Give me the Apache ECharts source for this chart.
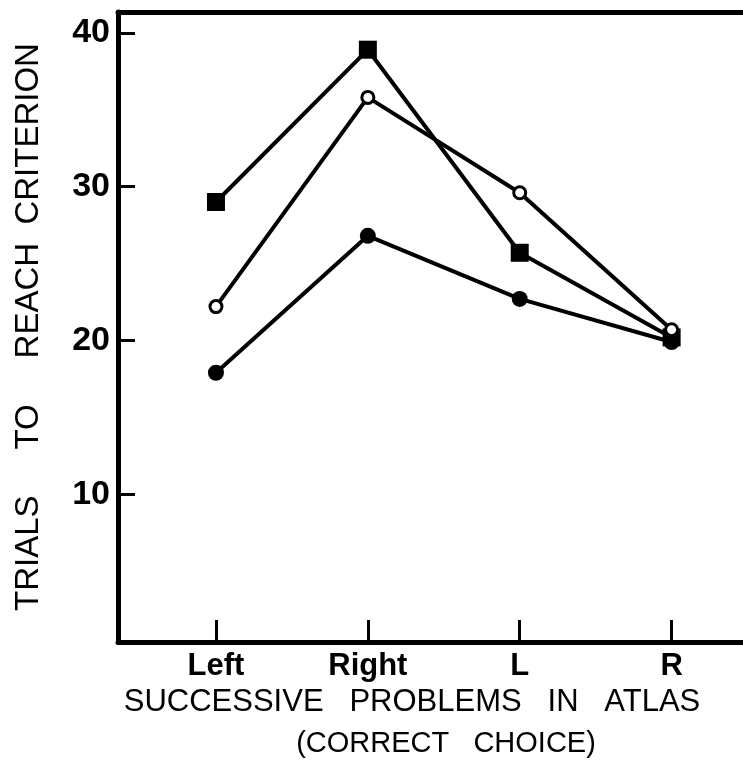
<!DOCTYPE html>
<html>
<head>
<meta charset="utf-8">
<script src="https://cdn.jsdelivr.net/npm/echarts@6/dist/echarts.min.js"></script>
<style>
html,body{margin:0;padding:0;background:#fff;}
#chart{width:743px;height:764px;}
</style>
</head>
<body>
<div id="chart"></div>
<script>
var categories = ['Left', 'Right', 'L', 'R'];
var squareValues = [29.0, 38.9, 25.7, 20.2];
var openCircleValues = [22.2, 35.8, 29.6, 20.7];
var filledCircleValues = [17.9, 26.8, 22.7, 19.9];
var yTickValues = [10, 20, 30, 40];
var xTitleLine1 = 'SUCCESSIVE   PROBLEMS   IN   ATLAS';
var xTitleLine2 = '(CORRECT   CHOICE)';
var yTitle = 'TRIALS     TO     REACH  CRITERION';

function pairs(vals) {
  return vals.map(function (v, i) { return [i, v]; });
}

var chart = echarts.init(document.getElementById('chart'));
var FONT = 'Liberation Sans';
var axisLine = { show: true, onZero: false, lineStyle: { color: '#000', width: 5 } };
chart.setOption({
  animation: false,
  backgroundColor: '#fff',
  grid: { left: 118, right: 0, top: 12, bottom: 122 },
  xAxis: [{
    type: 'value',
    min: -0.645, max: 3.47,
    splitLine: { show: false },
    axisLine: axisLine,
    axisTick: { show: true, inside: true, length: 22, customValues: [0, 1, 2, 3], lineStyle: { color: '#000', width: 3 } },
    axisLabel: {
      customValues: [0, 1, 2, 3],
      formatter: function (v) { return categories[Math.round(v)]; },
      color: '#000', fontFamily: FONT, fontWeight: 'bold', fontSize: 31, margin: 9
    }
  }, {
    type: 'value', position: 'top',
    min: -0.645, max: 3.47,
    splitLine: { show: false },
    axisLine: axisLine,
    axisTick: { show: false },
    axisLabel: { show: false }
  }],
  yAxis: {
    type: 'value',
    min: 0.4, max: 41.35,
    splitLine: { show: false },
    axisLine: axisLine,
    axisTick: { show: true, inside: true, length: 17, customValues: yTickValues, lineStyle: { color: '#000', width: 3 } },
    axisLabel: {
      customValues: yTickValues,
      color: '#000', fontFamily: FONT, fontWeight: 'bold', fontSize: 34, margin: 8
    },
    name: yTitle,
    nameLocation: 'middle',
    nameRotate: 90,
    nameGap: 73,
    nameTextStyle: { color: '#000', fontFamily: FONT, fontSize: 33 }
  },
  graphic: [
    { type: 'text', x: 412, y: 702, style: { text: xTitleLine1, fill: '#000', font: '31px "Liberation Sans"', textAlign: 'center', textVerticalAlign: 'middle' } },
    { type: 'text', x: 446, y: 744, style: { text: xTitleLine2, fill: '#000', font: '29px "Liberation Sans"', textAlign: 'center', textVerticalAlign: 'middle' } }
  ],
  series: [
    {
      type: 'line', data: pairs(squareValues),
      symbol: 'rect', symbolSize: 18,
      lineStyle: { color: '#000', width: 4 },
      itemStyle: { color: '#000', borderColor: '#000', borderWidth: 0 }
    },
    {
      type: 'line', data: pairs(filledCircleValues),
      symbol: 'circle', symbolSize: 16,
      lineStyle: { color: '#000', width: 4 },
      itemStyle: { color: '#000', borderColor: '#000', borderWidth: 0 }
    },
    {
      type: 'line', data: pairs(openCircleValues),
      symbol: 'circle', symbolSize: 12,
      lineStyle: { color: '#000', width: 4 },
      itemStyle: { color: '#fff', borderColor: '#000', borderWidth: 3 }
    }
  ]
});
</script>
</body>
</html>
